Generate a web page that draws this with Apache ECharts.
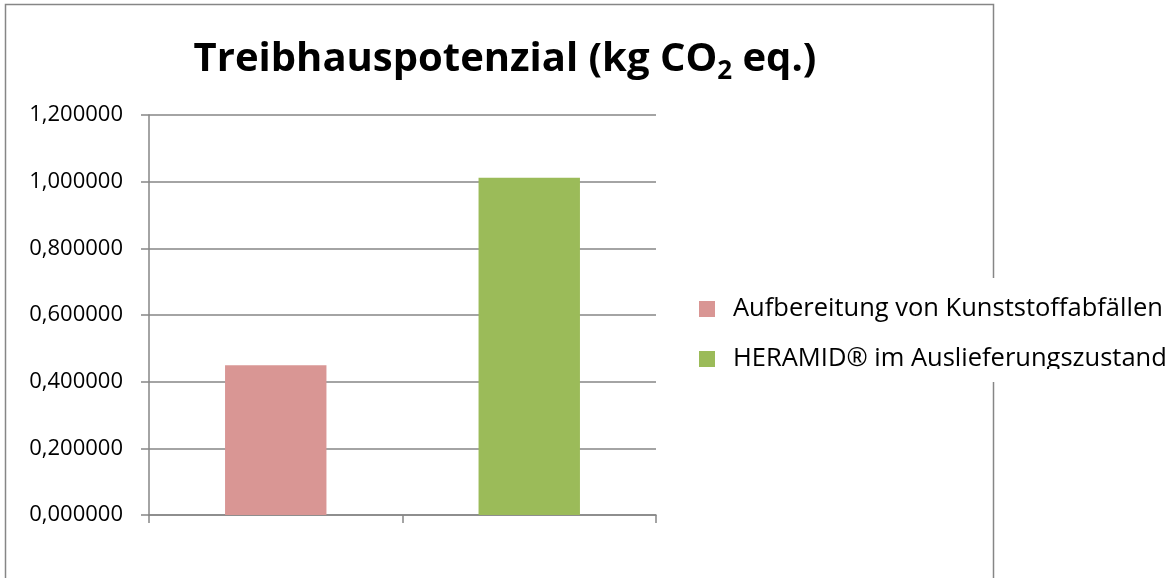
<!DOCTYPE html>
<html>
<head>
<meta charset="utf-8">
<script src="https://cdn.jsdelivr.net/npm/echarts@6/dist/echarts.min.js"></script>
<style>
  html, body { margin: 0; padding: 0; background: #fff; }
  #container { width: 1173px; height: 578px; }
</style>
</head>
<body>
<div id="container"></div>
<script>
var categories = ['Aufbereitung', 'HERAMID'];
var seriesNames = ['Aufbereitung von Kunststoffabfällen', 'HERAMID® im Auslieferungszustand'];
var aufbereitung = [0.449, '-'];
var heramid = ['-', 1.012];
var colors = ['#d99694', '#9bbb59'];

var dom = document.getElementById('container');
var myChart = echarts.init(dom, null, { renderer: 'canvas' });
var axisColor = '#868686';
var font = 'Open Sans';

var option = {
    animation: false,
    textStyle: { fontFamily: font },
    title: {
        text: 'Treibhauspotenzial (kg CO{sub|2} eq.)',
        left: 500,
        top: 30,
        textAlign: 'center',
        textStyle: {
            fontFamily: font,
            fontSize: 40,
            fontWeight: 'bold',
            color: '#000',
            rich: {
                sub: { fontFamily: font, fontSize: 26, fontWeight: 'bold', color: '#000', padding: [24, 0, 0, 0] }
            }
        }
    },
    graphic: [{
        type: 'rect',
        z: 0,
        shape: { x: 5.5, y: 4.5, width: 988, height: 620 },
        style: { fill: 'none', stroke: axisColor, lineWidth: 1.5 }
    }, {
        // the legend text is cut off at the bottom in the original
        type: 'rect',
        z: 10,
        shape: { x: 725, y: 369, width: 448, height: 13 },
        style: { fill: '#fff' }
    }],
    legend: {
        z: 5,
        orient: 'vertical',
        left: 689,
        top: 278,
        padding: [16, 20, 7, 10],
        backgroundColor: '#fff',
        icon: 'rect',
        itemWidth: 16,
        itemHeight: 16,
        itemGap: 20,
        data: seriesNames,
        textStyle: { fontFamily: font, fontSize: 25.5, lineHeight: 30, color: '#000', padding: [0, 0, 0, 13] }
    },
    grid: { left: 149, right: 517, top: 115, bottom: 63 },
    xAxis: {
        type: 'category',
        data: categories,
        axisLine: { lineStyle: { color: axisColor, width: 1.5 } },
        axisTick: { show: true, length: 8, lineStyle: { color: axisColor, width: 1.5 } },
        axisLabel: { show: false }
    },
    yAxis: {
        type: 'value',
        min: 0,
        max: 1.2,
        interval: 0.2,
        axisLine: { show: true, lineStyle: { color: axisColor, width: 1.5 } },
        axisTick: { show: true, length: 8, lineStyle: { color: axisColor, width: 1.5 } },
        splitLine: { lineStyle: { color: axisColor, width: 1.5 } },
        axisLabel: {
            margin: 26,
            fontFamily: font,
            fontSize: 22,
            color: '#000',
            formatter: function (v) { return v.toFixed(6).replace('.', ','); }
        }
    },
    series: [
        {
            name: seriesNames[0],
            type: 'bar',
            stack: 'all',
            barWidth: '40%',
            data: aufbereitung,
            itemStyle: { color: colors[0] }
        },
        {
            name: seriesNames[1],
            type: 'bar',
            stack: 'all',
            barWidth: '40%',
            data: heramid,
            itemStyle: { color: colors[1] }
        }
    ]
};

myChart.setOption(option);
window.addEventListener('resize', myChart.resize);
</script>
</body>
</html>
